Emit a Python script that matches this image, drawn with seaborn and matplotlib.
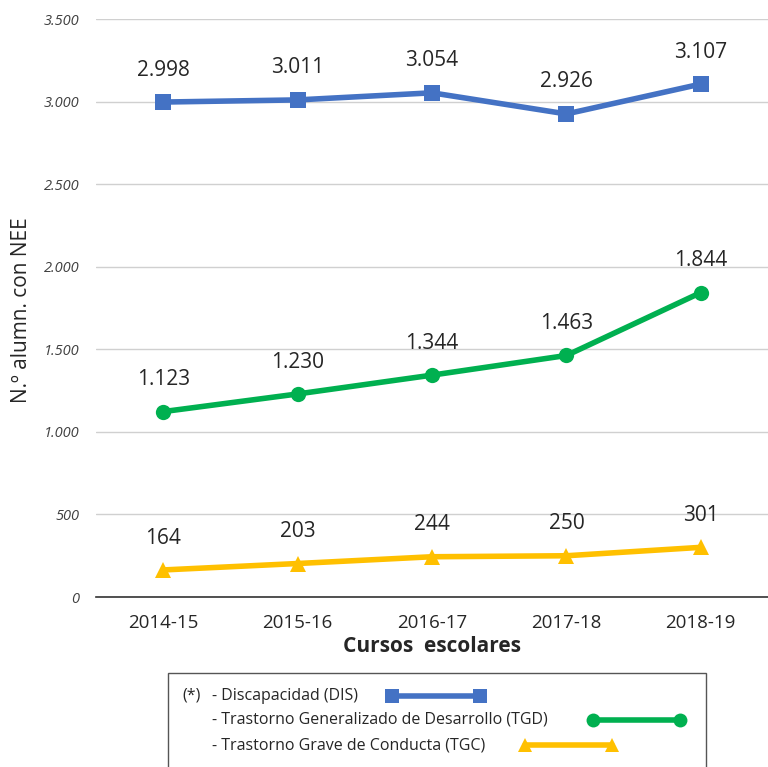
import pandas as pd
import numpy as np
import matplotlib
matplotlib.use('Agg')
import matplotlib.pyplot as plt
import seaborn as sns
from matplotlib.lines import Line2D
from matplotlib.patches import Rectangle

cursos = ['2014-15', '2015-16', '2016-17', '2017-18', '2018-19']
dis = [2998, 3011, 3054, 2926, 3107]
tgd = [1123, 1230, 1344, 1463, 1844]
tgc = [164, 203, 244, 250, 301]

series_names = ['DIS', 'TGD', 'TGC']
legend_text = ['- Discapacidad (DIS)',
               '- Trastorno Generalizado de Desarrollo (TGD)',
               '- Trastorno Grave de Conducta (TGC)']
colors = {'DIS': '#4472C4', 'TGD': '#00B050', 'TGC': '#FFC000'}
markers = {'DIS': 's', 'TGD': 'o', 'TGC': '^'}

df = pd.DataFrame({
    'idx': list(range(len(cursos))) * 3,
    'valor': dis + tgd + tgc,
    'serie': ['DIS'] * 5 + ['TGD'] * 5 + ['TGC'] * 5,
})

sns.set_style('white')
plt.rcParams['font.family'] = ['Open Sans', 'DejaVu Sans']

fig = plt.figure(figsize=(7.68, 7.67), dpi=100)
ax = fig.add_axes([0.125, 0.2216, 0.875, 0.7534])

sns.lineplot(data=df, x='idx', y='valor', hue='serie', style='serie',
             palette=colors, markers=markers, dashes=False, linewidth=4,
             markersize=11, markeredgewidth=0, legend=False, ax=ax)

def fmt(v):
    return f'{v:,}'.replace(',', '.')

for name, vals in zip(series_names, [dis, tgd, tgc]):
    for i, v in enumerate(vals):
        ax.annotate(fmt(v), (i, v), xytext=(0, 23), textcoords='offset points',
                    ha='center', va='center', fontsize=15, color='#262626')

ax.set_xlim(-0.5, 4.5)
ax.set_ylim(0, 3500)
ax.set_yticks(np.arange(0, 3501, 500))
ax.set_yticklabels([fmt(int(v)) for v in np.arange(0, 3501, 500)],
                   fontsize=10.5, style='italic', color='#404040')
ax.set_xticks(range(len(cursos)))
ax.set_xticklabels(cursos, fontsize=13.5, color='#262626')
ax.grid(axis='y', color='#d0d0d0', linewidth=1)
ax.tick_params(axis='x', length=5, color='#333333', width=1, pad=7)
ax.tick_params(axis='y', length=0, pad=12)
for s in ['top', 'right', 'left']:
    ax.spines[s].set_visible(False)
ax.spines['bottom'].set_color('#333333')
ax.spines['bottom'].set_linewidth(1.2)
ax.set_xlabel('Cursos  escolares', fontsize=15, fontweight='bold', labelpad=3)
ax.set_ylabel('N.º alumn. con NEE', fontsize=15, color='#262626')
ax.yaxis.set_label_coords(-0.095, 0.497)

# legend box drawn by hand
W, H = 768, 767
def fx(px):
    return px / W
def fy(py):
    return 1 - py / H

fig.patches.append(Rectangle((fx(168), fy(770)), fx(706) - fx(168), fy(673) - fy(770),
                             transform=fig.transFigure, fill=False,
                             edgecolor='#555555', linewidth=1))
fig.text(fx(182), fy(696), '(*)', fontsize=11.5, va='center', color='#262626')
rows_y = [696, 720, 745]
line_spans = [(392, 480), (593, 680), (525, 612)]
for name, txt, y, (x0, x1) in zip(series_names, legend_text, rows_y, line_spans):
    fig.text(fx(212), fy(y), txt, fontsize=11.5, va='center', color='#262626')
    fig.lines.append(Line2D([fx(x0), fx(x1)], [fy(y), fy(y)], transform=fig.transFigure,
                            color=colors[name], linewidth=4, marker=markers[name],
                            markersize=10, markeredgewidth=0))

fig.savefig('out.png', dpi=100)
